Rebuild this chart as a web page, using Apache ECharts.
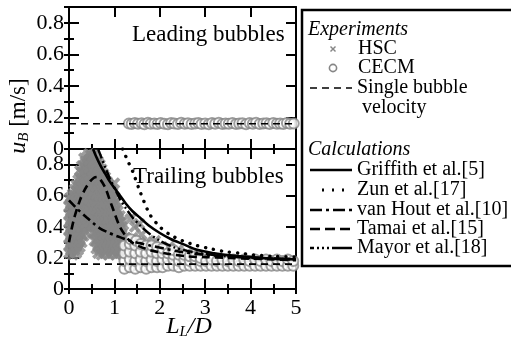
<!DOCTYPE html>
<html><head><meta charset="utf-8">
<script src="https://cdn.jsdelivr.net/npm/echarts@6/dist/echarts.min.js"></script>
<style>html,body{margin:0;padding:0;background:#fff}#c{width:511px;height:341px}</style>
</head><body><div id="c"></div>
<script>
// ---------- DATA ----------
const xTicks = [0, 1, 2, 3, 4, 5];
const yTicks = [0, 0.2, 0.4, 0.6, 0.8];
const singleX = [0, 5];
const singleY = [0.16, 0.16];

// Leading bubbles (top panel), CECM
const leadX = [1.32,1.38,1.45,1.52,1.6,1.66,1.74,1.8,1.88,1.95,2.02,2.1,2.18,2.25,2.32,2.4,2.47,2.55,2.62,2.7,2.78,2.85,2.92,3.0,3.08,3.15,3.22,3.3,3.38,3.45,3.52,3.6,3.68,3.75,3.82,3.9,3.98,4.05,4.12,4.2,4.28,4.35,4.42,4.5,4.58,4.65,4.72,4.8,4.87,4.95];
const leadY = [0.162,0.158,0.165,0.16,0.163,0.157,0.166,0.16,0.162,0.158,0.164,0.16,0.157,0.165,0.161,0.159,0.166,0.16,0.163,0.158,0.161,0.165,0.159,0.162,0.157,0.164,0.16,0.166,0.158,0.162,0.16,0.165,0.158,0.161,0.163,0.157,0.164,0.16,0.166,0.159,0.161,0.163,0.158,0.165,0.16,0.162,0.158,0.164,0.16,0.162];

// Trailing bubbles (bottom panel), HSC  [x, y]
const hscPts = [
 [0.00,0.23],[0.00,0.28],[0.00,0.33],[0.00,0.38],[0.00,0.43],[0.00,0.48],[0.00,0.53],[0.00,0.58],
 [0.08,0.22],[0.08,0.27],[0.08,0.32],[0.08,0.37],[0.08,0.42],[0.08,0.47],[0.08,0.52],[0.08,0.57],[0.08,0.61],
 [0.16,0.23],[0.16,0.28],[0.16,0.33],[0.16,0.38],[0.16,0.43],[0.16,0.48],[0.16,0.53],[0.16,0.58],[0.16,0.63],[0.16,0.67],
 [0.24,0.27],[0.24,0.32],[0.24,0.37],[0.24,0.42],[0.24,0.47],[0.24,0.52],[0.24,0.57],[0.24,0.62],[0.24,0.67],[0.24,0.72],[0.24,0.76],
 [0.32,0.34],[0.32,0.39],[0.32,0.44],[0.32,0.49],[0.32,0.54],[0.32,0.59],[0.32,0.64],[0.32,0.69],[0.32,0.74],[0.32,0.79],[0.33,0.84],
 [0.40,0.40],[0.40,0.45],[0.40,0.50],[0.40,0.55],[0.40,0.60],[0.40,0.65],[0.40,0.70],[0.40,0.75],[0.40,0.80],[0.40,0.85],
 [0.48,0.41],[0.48,0.46],[0.48,0.51],[0.48,0.56],[0.48,0.61],[0.48,0.66],[0.48,0.71],[0.48,0.76],[0.48,0.81],[0.48,0.86],
 [0.56,0.31],[0.56,0.36],[0.56,0.41],[0.56,0.46],[0.56,0.51],[0.56,0.56],[0.56,0.61],[0.56,0.66],[0.56,0.71],[0.56,0.76],[0.56,0.81],[0.56,0.86],
 [0.64,0.23],[0.64,0.28],[0.64,0.33],[0.64,0.38],[0.64,0.43],[0.64,0.48],[0.64,0.53],[0.64,0.58],[0.64,0.63],[0.64,0.68],[0.64,0.73],[0.64,0.78],[0.64,0.82],
 [0.72,0.22],[0.72,0.27],[0.72,0.32],[0.72,0.37],[0.72,0.42],[0.72,0.47],[0.72,0.52],[0.72,0.57],[0.72,0.62],[0.72,0.67],[0.72,0.72],[0.72,0.77],
 [0.80,0.23],[0.80,0.28],[0.80,0.33],[0.80,0.38],[0.80,0.43],[0.80,0.48],[0.80,0.53],[0.80,0.58],[0.80,0.63],[0.80,0.68],[0.80,0.72],
 [0.88,0.22],[0.88,0.27],[0.88,0.32],[0.88,0.37],[0.88,0.42],[0.88,0.47],[0.88,0.52],[0.88,0.57],[0.88,0.62],[0.88,0.67],
 [0.96,0.23],[0.96,0.28],[0.96,0.33],[0.96,0.38],[0.96,0.43],[0.96,0.48],[0.96,0.53],[0.96,0.58],[0.96,0.62],[1.0,0.68],
 [1.04,0.22],[1.04,0.27],[1.04,0.32],[1.04,0.37],[1.04,0.42],[1.04,0.47],[1.04,0.52],[1.04,0.56],
 [1.12,0.23],[1.12,0.28],[1.12,0.33],[1.12,0.38],[1.12,0.43],[1.12,0.47],
 [1.20,0.22],[1.20,0.27],[1.20,0.32],[1.20,0.37],
 [1.30,0.30],[1.35,0.45],[1.40,0.33],[1.45,0.40],[1.50,0.28],[1.55,0.42],[1.60,0.35],[1.70,0.30],[1.80,0.27],[1.90,0.31],[2.00,0.26],[2.20,0.27],[2.40,0.25],[2.60,0.23],
 [0.04,0.25],[0.04,0.30],[0.04,0.35],[0.04,0.40],[0.04,0.45],[0.04,0.50],[0.04,0.55],[0.04,0.59],
 [0.12,0.25],[0.12,0.30],[0.12,0.35],[0.12,0.40],[0.12,0.45],[0.12,0.50],[0.12,0.55],[0.12,0.60],[0.12,0.64],
 [0.20,0.25],[0.20,0.30],[0.20,0.35],[0.20,0.40],[0.20,0.45],[0.20,0.50],[0.20,0.55],[0.20,0.60],[0.20,0.65],[0.20,0.70],
 [0.28,0.30],[0.28,0.35],[0.28,0.40],[0.28,0.45],[0.28,0.50],[0.28,0.55],[0.28,0.60],[0.28,0.65],[0.28,0.70],[0.28,0.75],[0.28,0.79],
 [0.36,0.37],[0.36,0.42],[0.36,0.47],[0.36,0.52],[0.36,0.57],[0.36,0.62],[0.36,0.67],[0.36,0.72],[0.36,0.77],[0.36,0.82],
 [0.44,0.43],[0.44,0.48],[0.44,0.53],[0.44,0.58],[0.44,0.63],[0.44,0.68],[0.44,0.73],[0.44,0.78],[0.44,0.83],[0.44,0.87],
 [0.52,0.36],[0.52,0.41],[0.52,0.46],[0.52,0.51],[0.52,0.56],[0.52,0.61],[0.52,0.66],[0.52,0.71],[0.52,0.76],[0.52,0.81],[0.52,0.86],
 [0.60,0.26],[0.60,0.31],[0.60,0.36],[0.60,0.41],[0.60,0.46],[0.60,0.51],[0.60,0.56],[0.60,0.61],[0.60,0.66],[0.60,0.71],[0.60,0.76],[0.60,0.81],[0.60,0.84],
 [0.68,0.25],[0.68,0.30],[0.68,0.35],[0.68,0.40],[0.68,0.45],[0.68,0.50],[0.68,0.55],[0.68,0.60],[0.68,0.65],[0.68,0.70],[0.68,0.75],[0.68,0.80],
 [0.76,0.25],[0.76,0.30],[0.76,0.35],[0.76,0.40],[0.76,0.45],[0.76,0.50],[0.76,0.55],[0.76,0.60],[0.76,0.65],[0.76,0.70],[0.76,0.74],
 [0.84,0.25],[0.84,0.30],[0.84,0.35],[0.84,0.40],[0.84,0.45],[0.84,0.50],[0.84,0.55],[0.84,0.60],[0.84,0.65],[0.84,0.69],
 [0.92,0.25],[0.92,0.30],[0.92,0.35],[0.92,0.40],[0.92,0.45],[0.92,0.50],[0.92,0.55],[0.92,0.60],[0.92,0.64],
 [1.00,0.25],[1.00,0.30],[1.00,0.35],[1.00,0.40],[1.00,0.45],[1.00,0.50],[1.00,0.55],[1.00,0.59],
 [1.08,0.25],[1.08,0.30],[1.08,0.35],[1.08,0.40],[1.08,0.45],[1.08,0.50],
 [1.16,0.25],[1.16,0.30],[1.16,0.35],[1.16,0.40],[1.16,0.43],
 [1.24,0.24],[1.24,0.29],[1.24,0.33]
];

// Trailing bubbles (bottom panel), CECM  [x, y]
const cecmPts = [
 [1.22,0.13],[1.22,0.18],[1.22,0.23],[1.22,0.28],
 [1.34,0.14],[1.34,0.19],[1.34,0.24],[1.34,0.29],[1.36,0.32],
 [1.46,0.13],[1.46,0.18],[1.46,0.23],[1.46,0.28],[1.48,0.31],
 [1.58,0.14],[1.58,0.19],[1.58,0.24],[1.58,0.29],
 [1.70,0.13],[1.70,0.18],[1.70,0.23],[1.70,0.28],
 [1.82,0.14],[1.82,0.19],[1.82,0.24],[1.82,0.28],
 [1.94,0.14],[1.94,0.18],[1.94,0.23],[1.94,0.27],
 [2.06,0.14],[2.06,0.19],[2.06,0.23],[2.06,0.26],
 [2.18,0.15],[2.18,0.19],[2.18,0.23],
 [2.30,0.15],[2.30,0.19],[2.30,0.22],[2.30,0.25],
 [2.42,0.14],[2.42,0.18],[2.42,0.22],
 [2.54,0.15],[2.54,0.19],[2.54,0.22],
 [2.66,0.15],[2.66,0.18],[2.66,0.21],
 [2.78,0.15],[2.78,0.19],[2.78,0.21],
 [2.90,0.15],[2.90,0.18],[2.90,0.20],
 [3.02,0.15],[3.02,0.18],[3.14,0.15],[3.14,0.19],[3.26,0.15],[3.26,0.18],
 [3.38,0.15],[3.38,0.19],[3.50,0.15],[3.50,0.18],[3.62,0.15],[3.62,0.19],
 [3.74,0.15],[3.74,0.18],[3.86,0.15],[3.86,0.19],[3.98,0.15],[3.98,0.18],
 [4.10,0.15],[4.10,0.19],[4.22,0.15],[4.22,0.18],[4.34,0.15],[4.34,0.19],
 [4.46,0.15],[4.46,0.18],[4.58,0.15],[4.58,0.19],[4.70,0.15],[4.70,0.18],
 [4.82,0.15],[4.82,0.19],[4.94,0.15],[4.94,0.18]
];

// Calculations (bottom panel)
const griffX = [0.53,0.6,0.7,0.8,0.9,1.0,1.1,1.25,1.4,1.56,1.75,2.0,2.25,2.5,2.84,3.2,3.6,4.0,4.5,5.0];
const griffY = [0.90,0.85,0.79,0.74,0.69,0.65,0.61,0.55,0.50,0.46,0.41,0.36,0.32,0.29,0.25,0.23,0.215,0.205,0.195,0.19];
const zunX = [1.18,1.3,1.41,1.56,1.78,2.0,2.22,2.5,2.81,3.1,3.44,3.77,4.05,4.5,5.0];
const zunY = [0.90,0.82,0.75,0.63,0.48,0.40,0.35,0.31,0.28,0.26,0.24,0.23,0.22,0.21,0.205];
const vanX = [0.0,0.2,0.39,0.55,0.68,0.85,1.01,1.2,1.34,1.56,1.78,2.1,2.44,3.0,3.5,4.0,4.5,5.0];
const vanY = [0.57,0.51,0.46,0.42,0.39,0.365,0.345,0.325,0.31,0.295,0.28,0.26,0.24,0.22,0.21,0.2,0.195,0.19];
const tamX = [0.0,0.1,0.24,0.35,0.46,0.55,0.62,0.7,0.8,0.9,1.0,1.12,1.25,1.34,1.5,1.78,2.2,2.6,3.0,3.5,4.0,4.5,5.0];
const tamY = [0.30,0.44,0.57,0.64,0.69,0.715,0.72,0.70,0.65,0.57,0.49,0.40,0.34,0.31,0.28,0.25,0.225,0.21,0.205,0.2,0.195,0.19,0.185];
const mayX = [0.64,0.72,0.8,0.9,1.0,1.12,1.25,1.4,1.56,1.75,2.0,2.3,2.6,3.0,3.5,4.0,4.5,5.0];
const mayY = [0.90,0.84,0.78,0.71,0.65,0.58,0.52,0.46,0.41,0.36,0.31,0.27,0.245,0.225,0.21,0.2,0.195,0.19];

// ---------- CHART ----------
const FONT = '"Liberation Serif", "Times New Roman", serif';
const GRAY = '#868686';
const crossPath = 'path://M0,2.2L2.2,0L5,2.8L7.8,0L10,2.2L7.2,5L10,7.8L7.8,10L5,7.2L2.2,10L0,7.8L2.8,5Z';
const zip = (a, b) => a.map((v, i) => [v, b[i]]);
const fmtY = v => (yTicks.some(t => Math.abs(t - v) < 1e-9) ? (v === 0 ? '0' : String(+v.toFixed(1))) : '');

const grids = [
  {left: 69, top: 7, width: 227, height: 142},
  {left: 69, top: 149, width: 227, height: 140}
];
const lineCol = {lineStyle: {color: '#000', width: 2}};
const TICKFS = 22;
function xAxes(g, labels) {
  const base = {gridIndex: g, type: 'value', min: 0, max: 5, splitLine: {show: false}, axisLine: {show: true, onZero: false, ...lineCol}};
  return [
    {...base, position: 'bottom', interval: 1, axisTick: {inside: true, length: 10, lineStyle: {width: 2, color: '#000'}},
      axisLabel: {show: labels, fontFamily: FONT, fontSize: TICKFS, color: '#000', margin: 8, formatter: v => xTicks.includes(v) ? String(v) : ''}},
    {...base, position: 'top', interval: 1, axisTick: {inside: true, length: 10, lineStyle: {width: 2, color: '#000'}}, axisLabel: {show: false}},
    {...base, position: 'bottom', interval: 0.5, axisLine: {show: false}, axisTick: {inside: true, length: 5, lineStyle: {width: 2, color: '#000'}}, axisLabel: {show: false}},
    {...base, position: 'top', interval: 0.5, axisLine: {show: false}, axisTick: {inside: true, length: 5, lineStyle: {width: 2, color: '#000'}}, axisLabel: {show: false}}
  ];
}
function yAxes(g) {
  const base = {gridIndex: g, type: 'value', min: 0, max: 0.9, splitLine: {show: false}, axisLine: {show: true, onZero: false, ...lineCol}};
  return [
    {...base, position: 'left', interval: 0.2, axisTick: {inside: true, length: 10, lineStyle: {width: 2, color: '#000'}},
      axisLabel: {fontFamily: FONT, fontSize: TICKFS, color: '#000', margin: 5, formatter: fmtY}},
    {...base, position: 'right', interval: 0.2, axisTick: {inside: true, length: 10, lineStyle: {width: 2, color: '#000'}}, axisLabel: {show: false}},
    {...base, position: 'left', interval: 0.1, axisLine: {show: false}, axisTick: {inside: true, length: 5, lineStyle: {width: 2, color: '#000'}}, axisLabel: {show: false}},
    {...base, position: 'right', interval: 0.1, axisLine: {show: false}, axisTick: {inside: true, length: 5, lineStyle: {width: 2, color: '#000'}}, axisLabel: {show: false}}
  ];
}

const curve = (name, xs, ys, dash, w, cap) => ({
  name, type: 'line', xAxisIndex: 4, yAxisIndex: 4, data: zip(xs, ys), showSymbol: false, symbol: 'none',
  smooth: 0.3, z: 10, clip: true, silent: true,
  lineStyle: {color: '#000', width: w || 2.4, type: dash || 'solid', cap: cap || 'butt'}
});

const series = [
  // top panel
  {type: 'scatter', xAxisIndex: 0, yAxisIndex: 0, data: zip(leadX, leadY), symbol: 'circle', symbolSize: 10,
    itemStyle: {color: '#fff', borderColor: GRAY, borderWidth: 2}, z: 3, silent: true},
  {type: 'line', xAxisIndex: 0, yAxisIndex: 0, data: zip(singleX, singleY), symbol: 'none', z: 5, silent: true,
    lineStyle: {color: '#000', width: 1.6, type: [7, 5]}},
  // bottom panel
  {type: 'scatter', xAxisIndex: 4, yAxisIndex: 4, data: hscPts, symbol: crossPath, symbolSize: 12,
    itemStyle: {color: GRAY}, z: 2, silent: true},
  {type: 'scatter', xAxisIndex: 4, yAxisIndex: 4, data: cecmPts, symbol: 'circle', symbolSize: 10,
    itemStyle: {color: '#fff', borderColor: GRAY, borderWidth: 2}, z: 3, silent: true},
  {type: 'line', xAxisIndex: 4, yAxisIndex: 4, data: zip(singleX, singleY), symbol: 'none', z: 5, silent: true,
    lineStyle: {color: '#000', width: 1.6, type: [7, 5]}},
  curve('Griffith', griffX, griffY, 'solid', 2.6),
  curve('Zun', zunX, zunY, [0.1, 8], 3.4, 'round'),
  curve('vanHout', vanX, vanY, [9, 4, 3, 4], 2.6),
  curve('Tamai', tamX, tamY, [8, 5], 2.6),
  curve('Mayor', mayX, mayY, [10, 3, 2, 3, 2, 3], 2.4)
];

// Legend (drawn as graphics)
const LX1 = 310, LX2 = 352, TX = 357, LFS = 20;
const lg = [];
lg.push({type: 'rect', shape: {x: 302, y: 10, width: 215, height: 256}, style: {fill: '#fff', stroke: '#000', lineWidth: 2.5}, z: 50});
const txt = (t, x, y, italic) => ({type: 'text', x, y, z: 51, style: {text: t, fill: '#000', fontFamily: FONT, fontSize: LFS, fontStyle: italic ? 'italic' : 'normal', align: 'left', verticalAlign: 'middle'}});
lg.push(txt('Experiments', 308, 30, true));
lg.push({type: 'line', shape: {x1: 330.5, y1: 46.5, x2: 335.5, y2: 51.5}, style: {stroke: GRAY, lineWidth: 1.4}, z: 51});
lg.push({type: 'line', shape: {x1: 335.5, y1: 46.5, x2: 330.5, y2: 51.5}, style: {stroke: GRAY, lineWidth: 1.4}, z: 51});
lg.push(txt('HSC', 358, 49));
lg.push({type: 'circle', shape: {cx: 333, cy: 68, r: 3.6}, style: {fill: '#fff', stroke: GRAY, lineWidth: 1.6}, z: 51});
lg.push(txt('CECM', 358, 68));
const sample = (y, dash, w) => ({type: 'line', shape: {x1: LX1, y1: y, x2: LX2, y2: y}, z: 51, style: {stroke: '#000', lineWidth: w, lineDash: dash}});
lg.push(sample(88, [7, 5], 1.6));
lg.push(txt('Single bubble', TX, 88));
lg.push(txt('velocity', 362, 108));
lg.push(txt('Calculations', 308, 150, true));
lg.push(sample(170, null, 2.6)); lg.push(txt('Griffith et al.[5]', TX, 170));
lg.push({type: 'line', shape: {x1: 322, y1: 190, x2: 352, y2: 190}, z: 51, style: {stroke: '#000', lineWidth: 3, lineDash: [2, 8]}});
lg.push(txt('Zun et al.[17]', TX, 190));
lg.push(sample(210, [12, 4, 3, 4], 2.6)); lg.push(txt('van Hout et al.[10]', TX, 210));
lg.push(sample(229, [10, 5], 2.6)); lg.push(txt('Tamai et al.[15]', TX, 229));
lg.push({type: 'line', shape: {x1: 352, y1: 248, x2: 310, y2: 248}, z: 51, style: {stroke: '#000', lineWidth: 2.4, lineDash: [20, 3, 2, 3, 2, 3, 2, 3]}});
lg.push(txt('Mayor et al.[18]', TX, 248));

// panel captions and axis names
lg.push({type: 'text', x: 132, y: 35, z: 20, style: {text: 'Leading bubbles', fill: '#000', fontFamily: FONT, fontSize: 23, align: 'left', verticalAlign: 'middle'}});
lg.push({type: 'text', x: 133, y: 177, z: 20, style: {text: 'Trailing bubbles', fill: '#000', fontFamily: FONT, fontSize: 23, align: 'left', verticalAlign: 'middle'}});
lg.push({type: 'text', x: 19, y: 116, rotation: Math.PI / 2, z: 20, style: {
  text: '{i|u}{s|B}{r| [m/s]}', fill: '#000', fontFamily: FONT, fontSize: 23, align: 'center', verticalAlign: 'middle',
  rich: {i: {fontFamily: FONT, fontSize: 24, fontStyle: 'italic'}, s: {fontFamily: FONT, fontSize: 15, fontStyle: 'italic', padding: [11, 0, 0, 0]}, r: {fontFamily: FONT, fontSize: 23}}}});
lg.push({type: 'text', x: 189, y: 327, z: 20, style: {
  text: '{i|L}{s|L}{i|/D}', fill: '#000', fontFamily: FONT, fontSize: 23, align: 'center', verticalAlign: 'middle',
  rich: {i: {fontFamily: FONT, fontSize: 24, fontStyle: 'italic'}, s: {fontFamily: FONT, fontSize: 15, fontStyle: 'italic', padding: [11, 0, 0, 0]}}}});

const chart = echarts.init(document.getElementById('c'), null, {renderer: 'canvas'});
chart.setOption({
  animation: false,
  backgroundColor: '#fff',
  textStyle: {fontFamily: FONT},
  grid: grids,
  xAxis: [...xAxes(0, false), ...xAxes(1, true)],
  yAxis: [...yAxes(0), ...yAxes(1)],
  series,
  graphic: {elements: lg}
});
</script></body></html>
